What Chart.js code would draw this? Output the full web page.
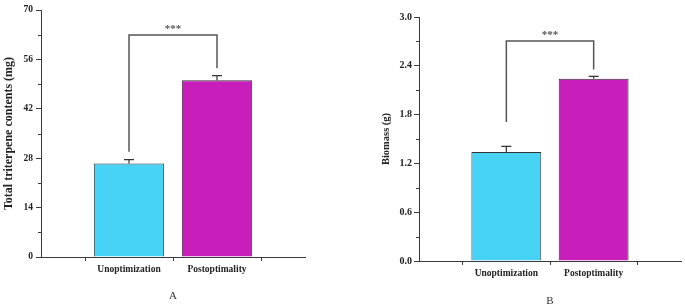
<!DOCTYPE html>
<html>
<head>
<meta charset="utf-8">
<script src="https://cdn.jsdelivr.net/npm/chart.js@4.4.1/dist/chart.umd.min.js"></script>
<style>
  html, body { margin: 0; padding: 0; background: #fff; }
  .panel { position: absolute; top: 0; width: 340px; height: 307px; }
  #panelA { left: 0; }
  #panelB { left: 345px; }
</style>
</head>
<body>
<div class="panel" id="panelA"><canvas id="chartA"></canvas></div>
<div class="panel" id="panelB"><canvas id="chartB"></canvas></div>
<script>
// categories (empty slots at both ends give the spacing of the original axis)
const categories = ['', 'Unoptimization', 'Postoptimality', ''];

// panel A: total triterpene contents (mg)
const triterpene = [null, 26.5, 50.1, null];
const triterpeneErr = [null, 1.1, 1.3, null];
const triterpeneTicks = [0, 14, 28, 42, 56, 70];
const triterpeneBracket = [62.9, 29.8, 53.5]; // top, left foot, right foot

// panel B: biomass (g)
const biomass = [null, 1.34, 2.24, null];
const biomassErr = [null, 0.07, 0.03, null];
const biomassTicks = [0, 0.6, 1.2, 1.8, 2.4, 3.0];
const biomassBracket = [2.706, 1.71, 2.355];

const barColors = ['rgba(0,0,0,0)', '#47D3F5', '#C81EBA', 'rgba(0,0,0,0)'];
const axisColor = '#3a3a3a';
const serif = '"Liberation Serif", "Times New Roman", serif';

// error bars, minor ticks and the significance bracket
const extras = {
  id: 'extras',
  afterDatasetsDraw(chart, args, opts) {
    const ctx = chart.ctx;
    const x = chart.scales.x;
    const y = chart.scales.y;
    const meta = chart.getDatasetMeta(0);
    ctx.save();

    // error bars (upper half, the lower half sits inside the bar)
    ctx.strokeStyle = '#333';
    ctx.lineWidth = 1.2;
    opts.err.forEach((e, i) => {
      if (e == null) return;
      const bar = meta.data[i];
      const top = y.getPixelForValue(opts.values[i] + e);
      ctx.beginPath();
      ctx.moveTo(bar.x, bar.y);
      ctx.lineTo(bar.x, top);
      ctx.moveTo(bar.x - 5, top);
      ctx.lineTo(bar.x + 5, top);
      ctx.stroke();
    });

    // minor ticks half way between the labelled ones
    ctx.strokeStyle = axisColor;
    ctx.lineWidth = 1;
    const t = opts.ticks;
    for (let i = 0; i < t.length - 1; i++) {
      const py = Math.round(y.getPixelForValue((t[i] + t[i + 1]) / 2)) + 0.5;
      ctx.beginPath();
      ctx.moveTo(chart.chartArea.left - 3, py);
      ctx.lineTo(chart.chartArea.left, py);
      ctx.stroke();
    }

    // significance bracket
    const [bTop, bLeft, bRight] = opts.bracket;
    const x1 = x.getPixelForValue(1);
    const x2 = x.getPixelForValue(2);
    const yTop = y.getPixelForValue(bTop);
    ctx.strokeStyle = '#555';
    ctx.lineWidth = 1.5;
    ctx.beginPath();
    ctx.moveTo(x1, y.getPixelForValue(bLeft));
    ctx.lineTo(x1, yTop);
    ctx.lineTo(x2, yTop);
    ctx.lineTo(x2, y.getPixelForValue(bRight));
    ctx.stroke();

    ctx.fillStyle = '#555';
    ctx.font = 'bold 11px ' + serif;
    ctx.textAlign = 'center';
    ctx.textBaseline = 'alphabetic';
    ctx.fillText('***', (x1 + x2) / 2, yTop - 3);
    ctx.restore();
  }
};

function makeChart(id, o) {
  return new Chart(document.getElementById(id), {
    type: 'bar',
    data: {
      labels: categories,
      datasets: [{
        data: o.values,
        backgroundColor: barColors,
        borderColor: '#333',
        borderWidth: 1,
        categoryPercentage: 1,
        barPercentage: 0.8
      }]
    },
    options: {
      responsive: true,
      maintainAspectRatio: false,
      animation: false,
      layout: { padding: o.padding },
      plugins: {
        legend: { display: false },
        tooltip: { enabled: false },
        extras: { values: o.values, err: o.err, ticks: o.ticks, bracket: o.bracket }
      },
      scales: {
        x: {
          offset: false,
          afterFit: s => { s.height = o.xHeight; },
          grid: { drawOnChartArea: false, drawTicks: true, tickLength: 4, color: axisColor },
          border: { display: true, color: axisColor, width: 1 },
          ticks: {
            color: '#222', padding: 3, maxRotation: 0, autoSkip: false,
            font: { family: serif, size: 9.5, weight: 'bold' }
          },
          title: {
            display: true, text: o.letter, color: '#333',
            padding: { top: 0, bottom: o.letterPad },
            font: { family: serif, size: 11, lineHeight: 1 }
          }
        },
        y: {
          min: 0,
          max: o.ticks[o.ticks.length - 1],
          afterFit: s => { s.width = o.yWidth; },
          afterBuildTicks: s => { s.ticks = o.ticks.map(v => ({ value: v })); },
          grid: { drawOnChartArea: false, drawTicks: true, tickLength: 5, color: axisColor },
          border: { display: true, color: axisColor, width: 1 },
          ticks: {
            color: '#222', padding: o.tickPad,
            font: { family: serif, size: o.tickSize, weight: 'bold' },
            callback: v => o.fmt(v)
          },
          title: {
            display: true, text: o.yTitle, color: '#222',
            padding: { top: o.titlePad, bottom: 0 },
            font: { family: serif, size: o.titleSize, weight: 'bold', lineHeight: 1.2 }
          }
        }
      }
    },
    plugins: [extras]
  });
}

makeChart('chartA', {
  values: triterpene, err: triterpeneErr, ticks: triterpeneTicks, bracket: triterpeneBracket,
  padding: { top: 10, right: 35, bottom: 0, left: 0 },
  xHeight: 50, yWidth: 41, letter: 'A', letterPad: 5,
  tickPad: 3, tickSize: 9.5, titleSize: 12, titlePad: 2,
  yTitle: 'Total triterpene contents (mg)',
  fmt: v => String(v)
});

makeChart('chartB', {
  values: biomass, err: biomassErr, ticks: biomassTicks, bracket: biomassBracket,
  padding: { top: 17, right: 4, bottom: 0, left: 0 },
  xHeight: 46, yWidth: 74, letter: 'B', letterPad: 0,
  tickPad: 2, tickSize: 10, titleSize: 10.5, titlePad: 35,
  yTitle: 'Biomass (g)',
  fmt: v => Number(v).toFixed(1)
});
</script>
</body>
</html>
